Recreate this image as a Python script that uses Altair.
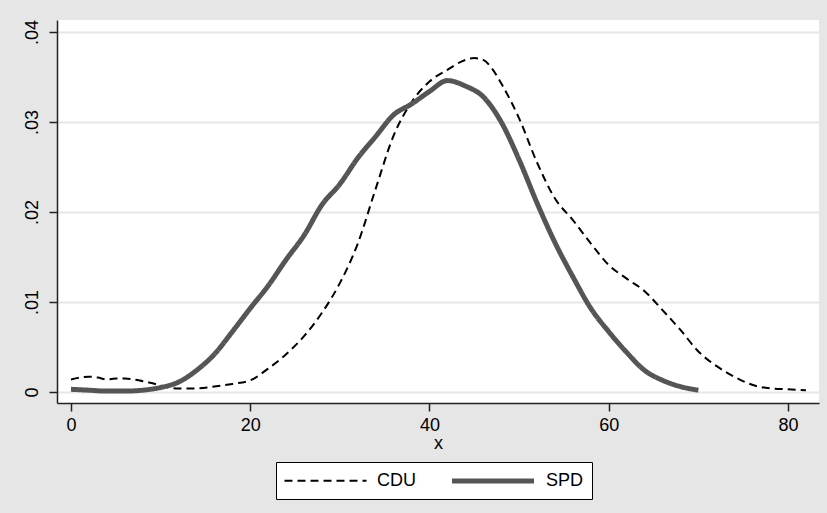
import altair as alt
import pandas as pd

# Kernel density estimates of the x distribution, by party
cdu_x = [0, 1, 2, 3, 4, 5, 6, 7, 8, 9, 10, 12, 14, 16, 18, 20, 22, 24, 26, 28,
         30, 32, 34, 36, 38, 40, 42, 44, 45, 46, 47, 48, 50, 52, 54, 56, 58,
         60, 62, 64, 66, 68, 70, 72, 74, 76, 78, 80, 82]
cdu_y = [.0014, .0016, .0017, .0016, .0014, .0015, .0015, .0014, .0012, .0010,
         .0007, .0004, .0004, .0006, .0009, .0013, .0026, .0042, .0062, .0088,
         .0121, .0165, .0226, .0285, .0322, .0345, .0358, .0369, .0371, .0369,
         .0359, .0343, .0304, .0255, .0215, .0191, .0165, .0141, .0126, .0112,
         .0091, .0069, .0045, .0029, .0017, .0008, .0004, .0003, .0002]

spd_x = [0, 2, 4, 6, 8, 10, 12, 14, 16, 18, 20, 22, 24, 26, 28, 30, 32, 34,
         36, 38, 40, 42, 44, 46, 48, 50, 52, 54, 56, 58, 60, 62, 64, 66, 68, 70]
spd_y = [.0003, .0002, .0001, .0001, .0002, .0005, .0011, .0024, .0042, .0067,
         .0093, .0118, .0147, .0174, .0208, .0231, .0260, .0284, .0308, .0320,
         .0334, .0346, .0340, .0328, .0300, .0258, .0210, .0166, .0128, .0093,
         .0067, .0044, .0024, .0013, .0006, .0002]

parties = ["CDU", "SPD"]
x_ticks = [0, 20, 40, 60, 80]
y_ticks = [0, 0.01, 0.02, 0.03, 0.04]

df = pd.concat([
    pd.DataFrame({"x": cdu_x, "density": cdu_y, "party": "CDU"}),
    pd.DataFrame({"x": spd_x, "density": spd_y, "party": "SPD"}),
])

FONT = "Liberation Sans"

# A long, flat line key: a wide custom path on a small symbol size keeps
# the legend rows short while the key itself stays long.
legend = alt.Legend(
    title=None,
    orient="none",
    legendX=219,
    legendY=442,
    direction="horizontal",
    symbolType="M-5,0H5",
    symbolSize=269,
    symbolOffset=32,
    labelFont=FONT,
    labelFontSize=18,
    labelColor="black",
    labelOffset=42,
    columnPadding=25,
    padding=8,
    fillColor="white",
    strokeColor="black",
)

chart = alt.Chart(df).mark_line(interpolate="monotone").encode(
    x=alt.X(
        "x:Q",
        scale=alt.Scale(domain=[-1.562, 83.46], nice=False, zero=False),
        axis=alt.Axis(values=x_ticks, title="x", grid=False, tickSize=8,
                      labelPadding=5, titlePadding=0, format="d"),
    ),
    y=alt.Y(
        "density:Q",
        scale=alt.Scale(domain=[-0.001222, 0.041333], nice=False, zero=False),
        axis=alt.Axis(
            values=y_ticks,
            title=None,
            grid=True,
            gridColor="#e6e6e6",
            gridWidth=2,
            tickSize=8,
            labelAngle=270,
            labelAlign="center",
            labelBaseline="alphabetic",
            labelPadding=12,
            labelExpr="datum.value == 0 ? '0' : replace(format(datum.value, '.2f'), '0.', '.')",
        ),
    ),
    color=alt.Color("party:N", scale=alt.Scale(domain=parties, range=["#000000", "#555555"]),
                    legend=legend),
    strokeDash=alt.StrokeDash("party:N", scale=alt.Scale(domain=parties, range=[[8, 5], [1, 0]]),
                              legend=legend),
    strokeWidth=alt.StrokeWidth("party:N", scale=alt.Scale(domain=parties, range=[2, 5]),
                                legend=legend),
    detail="party:N",
).properties(
    width=762,
    height=383,
    autosize=alt.AutoSizeParams(type="none"),
    padding={"left": 57, "top": 20, "right": 8, "bottom": 110},
    background="#e6e6e6",
).configure_view(
    fill="white",
    stroke=None,
).configure_axis(
    labelFont=FONT,
    labelFontSize=18,
    labelColor="black",
    titleFont=FONT,
    titleFontSize=18,
    titleFontWeight="normal",
    titleColor="black",
    domainColor="#222222",
    domainWidth=1.5,
    tickColor="#222222",
    tickWidth=1.5,
)

chart.save("out.html", embed_options={"renderer": "svg", "actions": False})
